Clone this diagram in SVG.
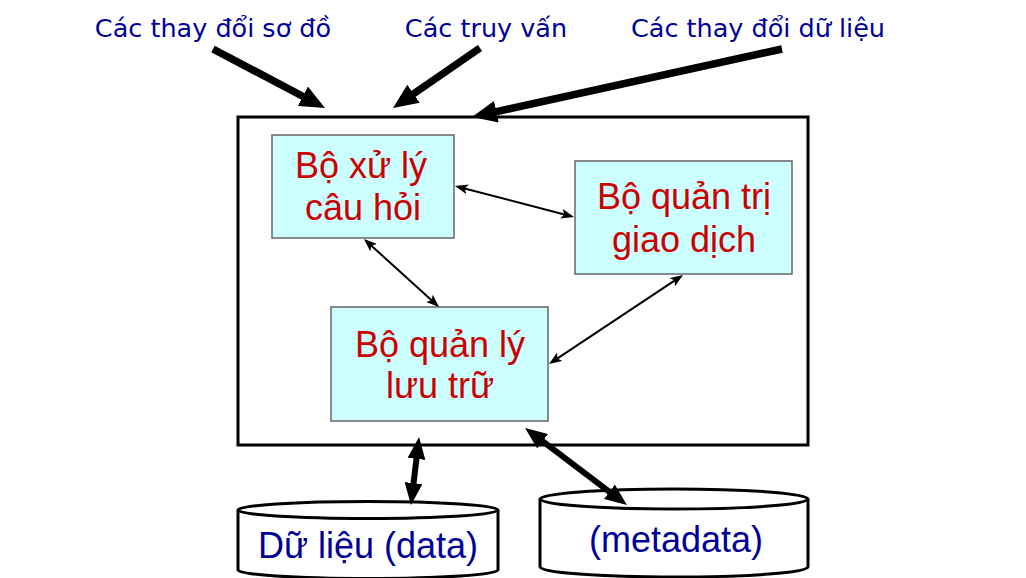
<svg xmlns="http://www.w3.org/2000/svg" width="1026" height="578" viewBox="0 0 1026 578">
<style>
.lbl{font-family:"DejaVu Sans","Verdana",sans-serif;font-size:25.5px;fill:#000099;text-anchor:middle}
.red{font-family:"Liberation Sans",Arial,sans-serif;font-size:36px;fill:#cc0000;text-anchor:middle}
.blu{font-family:"Liberation Sans",Arial,sans-serif;font-size:36px;fill:#000099;text-anchor:middle}
.box{fill:#ccffff;stroke:#666666;stroke-width:1.5}
.cyl{fill:#ffffff;stroke:#000000;stroke-width:3}
.thick{stroke:#000000;stroke-width:7.5;fill:none}
.bi{stroke:#000000;stroke-width:6;fill:none}
.thin{stroke:#000000;stroke-width:2;fill:none}
</style>
<defs>
<marker id="hThick" markerUnits="userSpaceOnUse" markerWidth="25" markerHeight="22" viewBox="0 0 25 22" refX="3" refY="11" orient="auto">
<path d="M0,0 L25,11 L0,22 z" fill="#000000"/>
</marker>
<marker id="hBi" markerUnits="userSpaceOnUse" markerWidth="22" markerHeight="18" viewBox="0 0 22 18" refX="3" refY="9" orient="auto-start-reverse">
<path d="M0,0 L22,9 L0,18 z" fill="#000000"/>
</marker>
<marker id="hThin" markerUnits="userSpaceOnUse" markerWidth="13" markerHeight="10" viewBox="0 0 13 10" refX="10" refY="5" orient="auto-start-reverse">
<path d="M0,0 L13,5 L0,10 L3,5 z" fill="#000000"/>
</marker>
</defs>
<rect width="1026" height="578" fill="#ffffff"/>

<g id="labels">
<text class="lbl" x="213" y="37">Các thay đổi sơ đồ</text>
<text class="lbl" x="486" y="37">Các truy vấn</text>
<text class="lbl" x="758" y="37">Các thay đổi dữ liệu</text>
</g>

<g id="dbms">
<rect x="238" y="117" width="570" height="328" fill="#ffffff" stroke="#000000" stroke-width="3"/>
</g>

<g id="query-processor">
<rect class="box" x="272" y="135" width="182" height="103"/>
<text class="red" x="361" y="178">Bộ xử lý</text>
<text class="red" x="363" y="220">câu hỏi</text>
</g>

<g id="transaction-manager">
<rect class="box" x="575" y="161" width="217" height="113"/>
<text class="red" x="684" y="209">Bộ quản trị</text>
<text class="red" x="684" y="252">giao dịch</text>
</g>

<g id="storage-manager">
<rect class="box" x="331" y="307" width="217" height="114"/>
<text class="red" x="440" y="357">Bộ quản lý</text>
<text class="red" x="440" y="398">lưu trữ</text>
</g>

<g id="data">
<path class="cyl" d="M238,510 L238,570 A130,8.5 0 0 0 498,570 L498,510"/>
<ellipse class="cyl" cx="368" cy="510" rx="130" ry="8.5"/>
<text class="blu" x="368" y="558">Dữ liệu (data)</text>
</g>

<g id="metadata">
<path class="cyl" d="M540,499 L540,567 A134,10 0 0 0 808,567 L808,499"/>
<ellipse class="cyl" cx="674" cy="499" rx="134" ry="10"/>
<text class="blu" x="676" y="552">(metadata)</text>
</g>

<g id="connectors">
<line class="thick" x1="213" y1="49" x2="305.5" y2="97.7" marker-end="url(#hThick)"/>
<line class="thick" x1="480" y1="48" x2="411.1" y2="95.5" marker-end="url(#hThick)"/>
<line class="thick" x1="782" y1="49" x2="493.5" y2="112.3" marker-end="url(#hThick)"/>
<line class="thin" x1="457.9" y1="186.8" x2="571.1" y2="216.2" marker-start="url(#hThin)" marker-end="url(#hThin)"/>
<line class="thin" x1="366.2" y1="241" x2="436.8" y2="305" marker-start="url(#hThin)" marker-end="url(#hThin)"/>
<line class="thin" x1="551.5" y1="362.3" x2="680.5" y2="276.7" marker-start="url(#hThin)" marker-end="url(#hThin)"/>
<line class="bi" x1="416.8" y1="455.9" x2="413.2" y2="486.1" marker-start="url(#hBi)" marker-end="url(#hBi)"/>
<line class="bi" x1="540.2" y1="439.4" x2="611.8" y2="493.6" marker-start="url(#hBi)" marker-end="url(#hBi)"/>
</g>
</svg>
